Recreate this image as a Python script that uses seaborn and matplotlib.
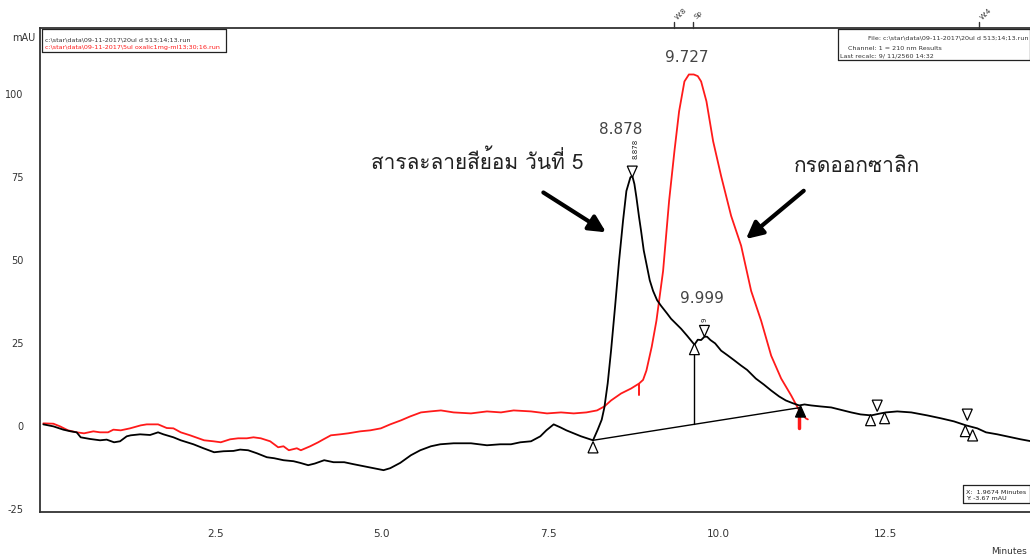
import matplotlib
matplotlib.use("Agg")
import matplotlib.pyplot as plt
import numpy as np
import pandas as pd
import seaborn as sns
from matplotlib import font_manager as fm
from matplotlib.ft2font import FT2Font
from matplotlib.patches import Polygon
from matplotlib.lines import Line2D

# ---- chromatogram traces (minutes, mAU) ----
time_sample = [0.05, 0.2, 0.35, 0.46, 0.55, 0.61, 0.75, 0.9, 1.0, 1.11, 1.2, 1.3, 1.36, 1.5, 1.65,
               1.77, 1.85, 2.0, 2.11, 2.3, 2.45, 2.61, 2.75, 2.9, 3.0, 3.12, 3.25, 3.4, 3.51, 3.65,
               3.8, 3.9, 4.02, 4.12, 4.26, 4.4, 4.56, 4.7, 4.85, 5.0, 5.15, 5.25, 5.4, 5.56, 5.7,
               5.86, 6.0, 6.2, 6.46, 6.7, 6.9, 7.06, 7.2, 7.36, 7.5, 7.59, 7.7, 7.8, 7.89, 8.0,
               8.11, 8.2, 8.29, 8.36, 8.42, 8.46, 8.51, 8.56, 8.62, 8.68, 8.74, 8.79, 8.85, 8.878,
               8.91, 8.94, 8.98, 9.01, 9.05, 9.09, 9.14, 9.19, 9.25, 9.31, 9.4, 9.46, 9.55, 9.61,
               9.7, 9.76, 9.81, 9.86, 9.91, 9.96, 9.999, 10.05, 10.12, 10.21, 10.3, 10.4, 10.51,
               10.6, 10.73, 10.85, 10.96, 11.08, 11.18, 11.28, 11.38, 11.46, 11.56, 11.7, 11.86,
               12.0, 12.16, 12.3, 12.46, 12.6, 12.68, 12.85, 13.06, 13.3, 13.51, 13.7, 13.88,
               14.05, 14.18, 14.35, 14.56, 14.7, 14.86]
mau_sample = [0.6, 0.0, -1.0, -1.5, -1.8, -3.3, -3.8, -4.2, -4.0, -4.8, -4.5, -3.0, -2.7, -2.4, -2.6,
              -1.8, -2.4, -3.3, -4.2, -5.4, -6.6, -7.8, -7.5, -7.4, -7.0, -7.2, -8.1, -9.3, -9.6, -10.2,
              -10.5, -11.0, -11.7, -11.2, -10.2, -10.8, -10.8, -11.4, -12.0, -12.6, -13.2, -12.6, -11.0, -8.7, -7.2,
              -6.0, -5.4, -5.1, -5.1, -5.7, -5.4, -5.4, -4.8, -4.5, -3.0, -1.2, 0.6, -0.3, -1.2, -2.1,
              -3.0, -3.6, -4.2, -1.0, 2.0, 5.7, 13.0, 22.8, 36.0, 49.8, 62.0, 70.9, 75.0, 75.5,
              73.0, 69.0, 63.0, 58.9, 53.0, 49.0, 44.0, 40.8, 38.0, 36.3, 34.0, 32.4, 30.6, 29.4,
              27.3, 25.8, 24.6, 26.1, 26.0, 27.0, 27.0, 26.0, 25.0, 22.8, 21.5, 20.0, 18.3,
              17.0, 14.4, 12.6, 10.8, 9.0, 7.8, 7.0, 6.3, 6.6, 6.3, 6.0, 5.7,
              5.0, 4.2, 3.6, 3.3, 3.9, 4.2, 4.5, 4.2, 3.3, 2.4, 1.5, 0.3,
              -0.6, -1.8, -2.4, -3.3, -3.9, -4.5]

time_oxalic = [0.05, 0.2, 0.3, 0.42, 0.55, 0.66, 0.8, 0.9, 1.02, 1.1, 1.21, 1.35, 1.51, 1.6, 1.77,
               1.9, 2.0, 2.11, 2.25, 2.46, 2.6, 2.71, 2.85, 2.97, 3.1, 3.2, 3.31, 3.45, 3.57, 3.65,
               3.73, 3.85, 3.91, 4.05, 4.17, 4.25, 4.36, 4.5, 4.62, 4.8, 4.95, 5.11, 5.25, 5.41,
               5.55, 5.71, 5.85, 6.01, 6.2, 6.46, 6.7, 6.91, 7.1, 7.36, 7.6, 7.81, 8.0, 8.19, 8.35,
               8.46, 8.56, 8.71, 8.86, 8.98, 9.04, 9.09, 9.17, 9.24, 9.34, 9.43, 9.51, 9.58, 9.66,
               9.727, 9.8, 9.86, 9.91, 9.99, 10.09, 10.21, 10.36, 10.51, 10.66, 10.81, 10.96, 11.11,
               11.26, 11.38, 11.48, 11.51]
mau_oxalic = [0.9, 0.8, 0.0, -1.2, -1.8, -2.1, -1.5, -1.8, -1.8, -1.0, -1.2, -0.6, 0.3, 0.6, 0.6,
              -0.5, -0.6, -1.8, -2.7, -4.2, -4.5, -4.8, -3.9, -3.6, -3.6, -3.3, -3.6, -4.5, -6.3, -6.0,
              -7.2, -6.6, -7.2, -6.0, -4.8, -3.9, -2.7, -2.4, -2.1, -1.5, -1.2, -0.6, 0.6, 1.8,
              3.0, 4.2, 4.5, 4.8, 4.2, 3.9, 4.5, 4.2, 4.8, 4.5, 3.9, 4.2, 3.9, 4.2, 4.8,
              6.0, 7.8, 9.9, 11.4, 12.9, 14.0, 16.8, 24.0, 31.8, 46.8, 67.9, 82.9, 94.9, 103.9,
              106.0, 106.0, 105.5, 103.9, 97.9, 85.9, 75.4, 63.4, 54.4, 40.8, 31.8, 21.3, 14.4,
              9.3, 4.8, 2.4, 2.1]

# integration events on the sample trace
peak_labels = ["8.878", "9.727", "9.999"]
peak_times = [8.878, 9.727, 9.999]
peak_heights = [75.5, 106.0, 27.0]
baseline_t = [8.29, 11.41]
baseline_v = [-4.2, 5.7]
drop_t = 9.81
drop_v = 24.6

y_ticks = [-25, 0, 25, 50, 75, 100]
x_ticks = [0.0, 2.5, 5.0, 7.5, 10.0, 12.5]
x_tick_labels = ["", "2.5", "5.0", "7.5", "10.0", "12.5"]


def font_with(text):
    """Return the first installed family that covers every glyph of text."""
    for f in fm.fontManager.ttflist:
        try:
            cmap = FT2Font(f.fname).get_charmap()
        except Exception:
            continue
        if all(ord(c) in cmap for c in text if not c.isspace()):
            return f.name
    return "DejaVu Sans"


label_dye = "สารละลายสีย้อม วันที่ 5"
label_oxalic = "กรดออกซาลิก"
thai_family = font_with(label_dye + label_oxalic)

sns.set_style("white")
plt.rcParams["font.family"] = ["DejaVu Sans"]

W, H = 1030, 559
fig = plt.figure(figsize=(W / 100, H / 100), dpi=100)
ax = fig.add_axes([40 / W, (H - 512) / H, 1 - 40 / W, (512 - 28) / H])
ax.set_xlim(0, 14.84)
ax.set_ylim(-25.8, 120)

df_s = pd.DataFrame({"t": time_sample, "v": mau_sample})
df_o = pd.DataFrame({"t": time_oxalic, "v": mau_oxalic})
sns.lineplot(data=df_o, x="t", y="v", ax=ax, color="#ff1a1a", lw=1.3, sort=False, estimator=None)
sns.lineplot(data=df_s, x="t", y="v", ax=ax, color="black", lw=1.3, sort=False, estimator=None)

# baseline and drop line of the integration
ax.plot(baseline_t, baseline_v, color="black", lw=1.0)
bl_at_drop = baseline_v[0] + (drop_t - baseline_t[0]) * (baseline_v[1] - baseline_v[0]) / (baseline_t[1] - baseline_t[0])
ax.plot([drop_t, drop_t], [bl_at_drop, drop_v], color="black", lw=1.0)

# event markers (triangles)
def tri(t, v, up=True, filled=False, w=0.075, h=3.4):
    if up:
        pts = [(t, v), (t - w, v - h), (t + w, v - h)]
    else:
        pts = [(t, v), (t - w, v + h), (t + w, v + h)]
    ax.add_patch(Polygon(pts, closed=True, fc="black" if filled else "white",
                         ec="black", lw=0.9, zorder=5))

tri(8.878, 75.0, up=False)
tri(8.29, -4.6, up=True)
tri(drop_t, 25.0, up=True)
tri(9.96, 27.0, up=False)
tri(11.4, 6.2, up=True, filled=True)
tri(12.55, 4.5, up=False)
tri(12.45, 3.6, up=True)
tri(12.66, 4.2, up=True)
tri(13.9, 1.8, up=False)
tri(13.87, 0.3, up=True)
tri(13.98, -1.0, up=True)

# red event ticks on the oxalic trace
ax.plot([8.98, 8.98], [9.3, 12.9], color="#ff1a1a", lw=1.4)
ax.plot([11.38, 11.38], [-0.6, 4.2], color="#ff1a1a", lw=2.5)

# small rotated retention labels
ax.text(8.92, 80.5, "8.878", rotation=90, fontsize=5, ha="center", va="bottom", color="#222")
ax.text(9.96, 31.5, "9", rotation=90, fontsize=5, ha="center", va="bottom", color="#222")

# peak retention-time labels
offsets = [(-0.17, 14.0), (-0.03, 5.0), (-0.07, 11.4)]
for lab, t, v, (dx, dy) in zip(peak_labels, peak_times, peak_heights, offsets):
    ax.text(t + dx, v + dy, lab, fontsize=11, ha="center", va="center", color="#444")

# Thai annotations with arrows
ax.text(6.55, 79.9, label_dye, fontsize=15, ha="center", va="center", color="#222", family=[thai_family, "DejaVu Sans"])
ax.text(12.25, 78.4, label_oxalic, fontsize=15, ha="center", va="center", color="#222", family=[thai_family, "DejaVu Sans"])
ax.annotate("", xy=(8.52, 58.0), xytext=(7.51, 70.9),
            arrowprops=dict(arrowstyle="-|>,head_length=1.0,head_width=0.5", lw=3, color="black"))
ax.annotate("", xy=(10.55, 55.9), xytext=(11.48, 71.5),
            arrowprops=dict(arrowstyle="-|>,head_length=1.0,head_width=0.5", lw=3, color="black"))

# axes styling
ax.spines["right"].set_visible(False)
for s in ["left", "bottom", "top"]:
    ax.spines[s].set_color("#333")
    ax.spines[s].set_linewidth(1.3)
ax.set_yticks(y_ticks)
ax.set_yticklabels([str(v) for v in y_ticks], fontsize=7, color="#333")
ax.set_xticks(x_ticks)
ax.set_xticklabels(x_tick_labels, fontsize=7.5, color="#333")
for lab in ax.get_xticklabels():
    lab.set_horizontalalignment("left")
ax.tick_params(axis="y", direction="out", length=11, width=1.3, colors="#333", pad=1, labelcolor="#333")
ax.tick_params(axis="x", direction="out", length=10, width=1.3, colors="#333", pad=2, labelcolor="#333")
ax.set_xlabel("")
ax.set_ylabel("")

# top event marks
for t, lab in [(9.5, "W:8"), (9.79, "Sp"), (14.08, "W:4")]:
    ax.plot([t, t], [120, 121.8], color="#333", lw=1.0, clip_on=False)
    ax.text(t, 122.3, lab, rotation=45, fontsize=5, ha="left", va="bottom", color="#333", clip_on=False)

def P(x, y):
    return x / W, (H - y) / H

fig.text(*P(12, 38), "mAU", fontsize=7, va="center", color="#333")
fig.text(*P(1027, 552), "Minutes", fontsize=6.5, ha="right", va="center", color="#333")

# file info boxes
def box(x0, x1, y0, y1):
    fig.add_artist(Line2D([x0 / W, x1 / W], [P(0, y0)[1]] * 2, color="#222", lw=0.9))
    fig.add_artist(Line2D([x0 / W, x1 / W], [P(0, y1)[1]] * 2, color="#222", lw=0.9))
    fig.add_artist(Line2D([x0 / W] * 2, [P(0, y0)[1], P(0, y1)[1]], color="#222", lw=0.9))
    fig.add_artist(Line2D([x1 / W] * 2, [P(0, y0)[1], P(0, y1)[1]], color="#222", lw=0.9))

box(42, 226, 29, 52)
fig.text(*P(45, 40), r"c:\star\data\09-11-2017\20ul d 513;14;13.run", fontsize=4.6, va="center", color="#333")
fig.text(*P(45, 48), r"c:\star\data\09-11-2017\5ul oxalic1mg-ml13;30;16.run", fontsize=4.6, va="center", color="#ff1a1a")

box(838, 1030, 29, 60)
fig.text(*P(1028, 38), r"File: c:\star\data\09-11-2017\20ul d 513;14;13.run", fontsize=4.6, ha="right", va="center", color="#333")
fig.text(*P(848, 48), "Channel: 1 = 210 nm Results", fontsize=4.6, va="center", color="#333")
fig.text(*P(840, 56), "Last recalc: 9/ 11/2560 14:32", fontsize=4.6, va="center", color="#333")

box(963, 1030, 485, 503)
fig.text(*P(966, 492), "X:  1.9674 Minutes", fontsize=4.6, va="center", color="#222")
fig.text(*P(966, 499), "Y: -3.67 mAU", fontsize=4.6, va="center", color="#222")

fig.savefig("out.png", dpi=100)
